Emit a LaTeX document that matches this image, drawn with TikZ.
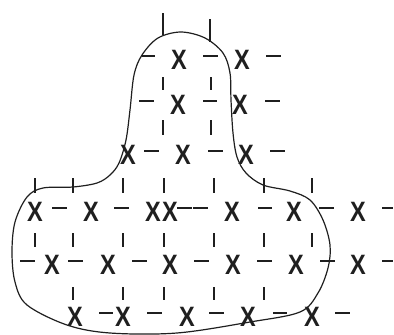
\documentclass[tikz,border=0pt]{standalone}
\usepackage{fontspec}
\setmainfont{Liberation Sans}
\newcommand{\stonemark}{\scalebox{0.84}[1]{\bfseries X}}
\begin{document}
\begin{tikzpicture}[x=1pt,y=-1pt,
  stone/.style={inner sep=0pt,outer sep=0pt,font=\fontsize{28}{28}\selectfont,text=black!88},
  hseg/.style={line width=1.6pt,black!88},
  vseg/.style={line width=1.1pt,black!88},
  outline/.style={line width=1.2pt,black!88}]
\useasboundingbox (0,0) rectangle (394,335);
% X marks
\foreach \x/\y [count=\i] in {179/60,242/60,178/105,240/105,128/155,183/155,246/155,
  35/212,91/212,153/212,170/212,232/212,294/212,358/212,
  52/265,108/265,170/265,233/265,296/265,358/265,
  75/317,123/317,187/317,248/317,312/317}
  \node[stone] (x\i) at (\x,\y) {\stonemark};
% horizontal dashes
\foreach \a/\b/\y in {142/155/56,203/218/56,266/281/56,
  139/154/101,203/217/101,265/280/101,
  144/159/151,208/223/151,270/285/151,
  52/67/208,114/129/208,177/192/208,193/208/208,258/272/208,319/334/208,382/393/208,
  20/35/261,68/83/261,132/147/261,194/209/261,257/272/261,320/335/261,382/393/261,
  99/113/313,147/162/313,209/224/313,273/287/313,335/350/313}
  \draw[hseg] (\a,\y) -- (\b,\y);
% vertical bars
\draw[vseg] (163,13) -- (163,35);
\draw[vseg] (210,19) -- (210,42);
\foreach \x in {163,211} {
  \draw[vseg] (\x,77) -- (\x,90);
  \draw[vseg] (\x,120) -- (\x,135);
}
\foreach \x in {35,73,123,164,214,264,312} {
  \draw[vseg] (\x,178) -- (\x,193);
  \draw[vseg] (\x,233) -- (\x,247);
}
\foreach \x in {73,123,164,214,264}
  \draw[vseg] (\x,287) -- (\x,300);
% outline
\draw[outline] plot[smooth cycle,tension=0.55] coordinates {
  (181,32) (205,38) (223,53) (230,73) (231,100) (233,133) (237,157) (246,173)
  (263,185) (290,191) (310,200) (323,220) (330,245) (328,268) (318,293) (300,312)
  (250,322) (177,333) (110,333) (67,325) (27,305) (15,282) (12,252) (15,222)
  (27,197) (43,188) (73,187) (97,183) (110,175) (119,163) (126,140) (130,110)
  (134,75) (142,55) (158,38)};
\end{tikzpicture}
\end{document}
